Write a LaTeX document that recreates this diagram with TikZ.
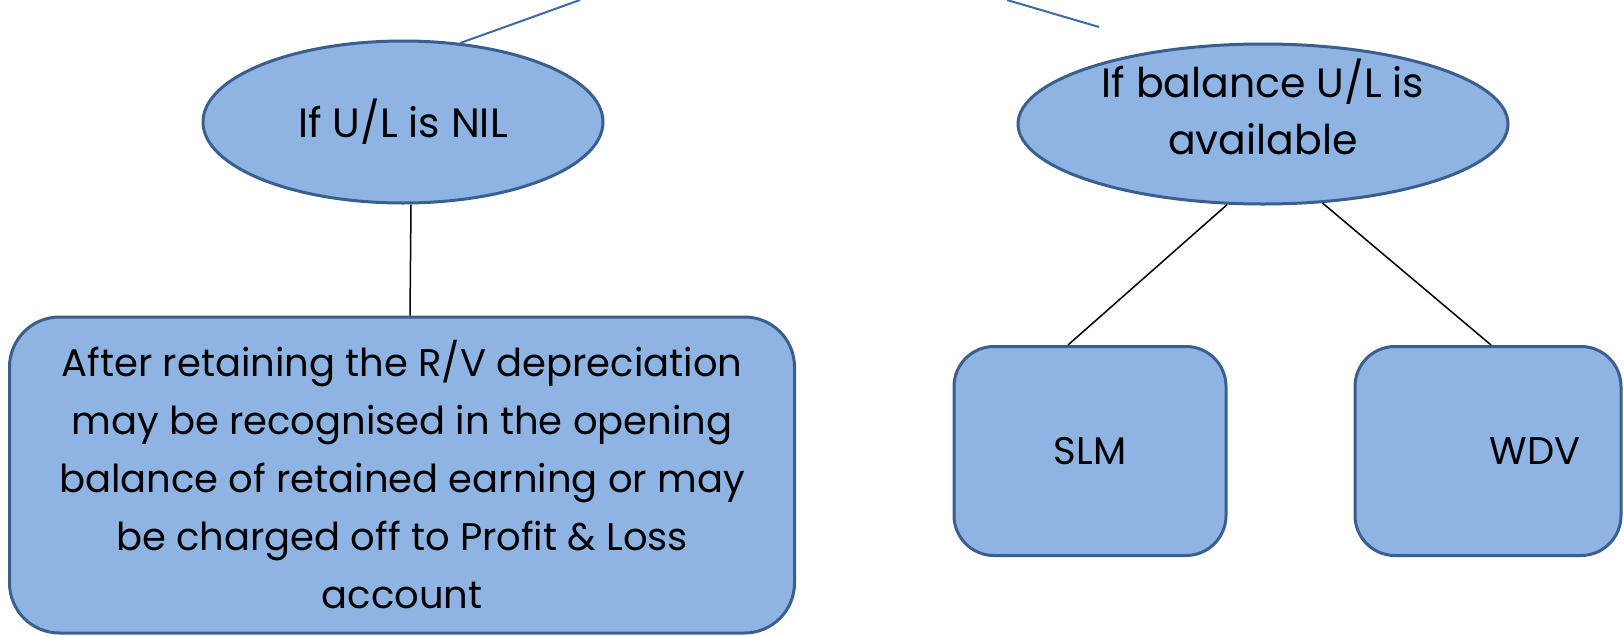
\documentclass[tikz,border=0pt]{standalone}
\usepackage{fontspec}
\setmainfont{Poppins}
\usepackage{tikz}
\usetikzlibrary{shapes.geometric, positioning, calc}
\definecolor{boxfill}{RGB}{142, 180, 227}
\definecolor{boxedge}{RGB}{58, 95, 142}
\definecolor{linkblue}{RGB}{62, 106, 164}
\tikzset{
  toplink/.style={line width=2pt, linkblue},
  sublink/.style={line width=1.5pt, black}
}

\begin{document}
\begin{tikzpicture}[x=1pt, y=-1pt,
    casenode/.style={ellipse, draw=boxedge, fill=boxfill, line width=3pt, inner sep=0pt, align=center,
      font=\fontsize{41}{57}\selectfont},
    rulebox/.style={draw=boxedge, fill=boxfill, line width=3pt, align=center, inner sep=0pt,
      font=\fontsize{38.5}{58}\selectfont}]
    \useasboundingbox (0,0) rectangle (1624,635);
    % Ellipses: the two cases
    \node (ulnil) [casenode, minimum width=400pt, minimum height=162pt] at (403,122) {If U/L is NIL};
    \node (ulbal) [casenode, minimum width=490pt, minimum height=160pt, text height=62pt] at (1263,124) {If balance U/L is\\available};
    % Boxes below
    \node (rvbox) [rulebox, rounded corners=50pt, minimum width=785pt, minimum height=316pt] at (402,475)
      {After retaining the R/V depreciation\\may be recognised in the opening\\balance of retained earning or may\\be charged off to Profit \& Loss\\account};
    \node (slm) [rulebox, rounded corners=40pt, minimum width=272pt, minimum height=209pt] at (1090,451) {SLM};
    \node (wdv) [rulebox, rounded corners=40pt, minimum width=266pt, minimum height=209pt] at (1488,451) {\hspace*{94pt}WDV};
    % Links coming from above the crop
    \coordinate (topL) at (580,0);
    \coordinate (topR) at (1007,0);
    \coordinate (topRend) at (1099,27);
    \draw[toplink] (topL) -- (ulnil.54);
    \draw[toplink] (topR) -- (topRend);
    % Links to the boxes
    \draw[sublink] ([xshift=8pt]ulnil.south) -- ([xshift=8pt]rvbox.north);
    \draw[sublink] (ulbal.-114) -- ([xshift=-22pt]slm.north);
    \draw[sublink] (ulbal.-53) -- ([xshift=3pt]wdv.north);
\end{tikzpicture}
\end{document}
